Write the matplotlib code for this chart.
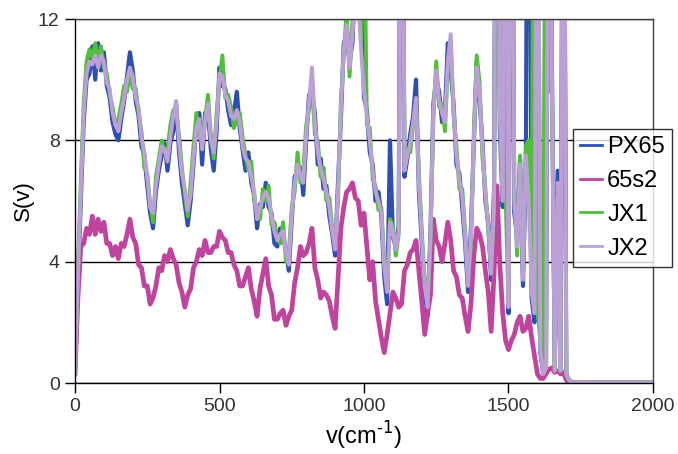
import numpy as np
import matplotlib
matplotlib.use("Agg")
import matplotlib.pyplot as plt

plt.rcParams['font.family'] = ['Liberation Sans', 'DejaVu Sans']

# wavenumber grid (cm^-1)
nu = list(range(0, 1730, 10)) + [1800, 2000]

px65 = [
    0.3, 3.2, 6.0, 8.6, 10.0, 10.2, 11.1, 10.0, 11.2, 10.3,
    10.9, 9.8, 9.4, 8.6, 8.2, 8.0, 8.7, 9.3, 10.1, 10.9,
    10.3, 9.3, 8.8, 7.8, 7.5, 6.5, 5.6, 5.1, 6.3, 7.0,
    7.5, 7.9, 7.0, 7.9, 8.3, 9.2, 7.6, 6.6, 5.9, 5.2,
    6.0, 7.2, 8.5, 8.9, 7.2, 8.9, 9.0, 7.7, 7.0, 8.3,
    10.4, 9.8, 9.7, 9.0, 8.5, 8.9, 9.6, 8.4, 7.7, 7.0,
    7.6, 6.6, 6.2, 5.1, 5.9, 5.8, 6.6, 5.8, 5.6, 4.6,
    4.5, 5.1, 4.8, 4.4, 3.7, 5.4, 6.8, 7.0, 7.1, 6.2,
    8.0, 9.5, 9.6, 8.9, 7.2, 7.4, 6.4, 6.5, 5.5, 4.9,
    4.2, 6.6, 8.7, 11.2, 11.5, 10.6, 11.2, 13.5, 12.8, 14.0,
    9.4, 9.0, 7.6, 7.2, 6.0, 6.3, 5.5, 3.5, 2.6, 8.0,
    4.8, 4.5, 5.2, 25.0, 6.8, 7.4, 8.2, 8.8, 10.0, 6.3,
    4.6, 3.0, 2.2, 5.0, 9.2, 10.0, 9.6, 8.6, 8.9, 11.2,
    10.3, 9.2, 7.2, 6.9, 5.8, 4.6, 3.0, 5.1, 7.8, 10.6,
    9.3, 7.9, 6.0, 5.3, 3.4, 6.4, 28.0, 8.4, 5.8, 26.0,
    2.3, 24.0, 5.6, 4.8, 7.4, 3.2, 7.0, 30.0, 2.8, 2.0,
    22.0, 1.0, 0.3, 0.6, 27.0, 10.8, 0.4, 7.0, 0.4, 25.0,
    0.3, 0.08, 0.03, 0.02, 0.02]

s65s2 = [
    0.3, 2.8, 4.5, 4.6, 5.1, 4.9, 5.5, 4.9, 5.4, 5.0,
    5.3, 4.6, 4.6, 4.2, 4.5, 4.1, 4.6, 4.5, 4.9, 5.4,
    4.8, 4.6, 3.9, 3.8, 3.2, 3.2, 2.6, 2.8, 3.2, 3.8,
    3.7, 4.2, 4.0, 4.4, 4.1, 3.9, 3.3, 3.0, 2.5, 2.9,
    3.1, 3.8, 4.0, 4.4, 4.2, 4.7, 4.3, 4.3, 4.5, 4.5,
    5.0, 4.8, 4.7, 4.3, 4.3, 3.9, 3.7, 3.2, 3.2, 3.5,
    3.8, 3.1, 2.7, 2.2, 3.1, 3.6, 4.1, 3.2, 2.9, 2.1,
    2.1, 2.3, 2.4, 1.9, 2.2, 2.4, 3.3, 3.8, 4.5, 4.2,
    4.3, 4.6, 5.1, 3.8, 3.4, 2.8, 3.0, 2.9, 2.7, 2.2,
    1.8, 3.4, 5.1, 5.8, 6.3, 6.4, 6.6, 6.1, 6.0, 5.2,
    5.6, 4.5, 3.4, 4.0, 2.7, 2.1, 1.5, 1.0, 1.6, 2.3,
    3.0, 2.8, 2.5, 2.6, 3.7, 3.9, 4.3, 4.4, 4.7, 3.7,
    2.7, 1.6, 2.3, 2.9, 5.4, 4.7, 4.5, 4.0, 4.6, 5.3,
    4.7, 3.7, 3.5, 2.9, 2.8, 2.2, 1.7, 2.6, 4.2, 5.1,
    4.9, 4.5, 3.7, 3.0, 1.7, 3.6, 6.5, 3.9, 2.3, 1.4,
    1.1, 1.4, 1.6, 2.0, 2.2, 1.7, 1.8, 2.2, 1.5, 0.9,
    0.3, 0.15, 0.15, 0.3, 0.45, 0.5, 0.35, 0.4, 0.3, 0.35,
    0.1, 0.03, 0.02, 0.02, 0.02]

jx1 = [
    0.4, 3.8, 6.6, 9.2, 10.6, 11.0, 10.7, 11.2, 10.6, 11.1,
    10.4, 10.2, 9.5, 9.1, 8.5, 8.7, 9.2, 9.8, 9.6, 10.2,
    9.7, 9.7, 8.9, 8.3, 7.1, 6.9, 5.9, 5.3, 6.8, 7.4,
    8.0, 7.6, 7.7, 8.5, 9.0, 8.9, 8.2, 7.1, 6.2, 5.5,
    6.6, 7.8, 8.9, 8.3, 8.0, 8.7, 9.5, 8.2, 7.4, 8.9,
    10.0, 10.8, 9.4, 9.5, 9.1, 8.4, 8.7, 8.9, 8.1, 7.5,
    7.0, 7.3, 6.0, 5.6, 5.4, 6.4, 6.0, 6.5, 5.2, 5.3,
    4.8, 4.6, 5.3, 4.0, 4.3, 5.8, 6.3, 7.6, 6.6, 7.0,
    8.5, 9.0, 9.9, 8.2, 8.0, 6.8, 7.1, 6.0, 6.1, 5.1,
    4.7, 6.0, 9.3, 10.8, 12.3, 10.1, 11.9, 12.4, 13.0, 11.3,
    16.0, 8.5, 8.4, 6.7, 6.5, 5.7, 5.8, 4.0, 3.2, 5.4,
    5.2, 4.2, 4.9, 26.0, 7.3, 7.7, 7.6, 8.5, 9.2, 6.9,
    5.0, 3.4, 2.7, 4.6, 8.8, 10.6, 9.1, 9.2, 8.3, 10.4,
    11.2, 8.8, 7.8, 6.4, 6.4, 5.0, 3.5, 4.5, 8.3, 10.8,
    9.9, 7.4, 6.4, 5.0, 3.8, 5.6, 30.0, 9.0, 27.0, 6.2,
    2.6, 26.0, 6.3, 4.2, 7.5, 3.6, 7.8, 8.0, 3.2, 28.0,
    2.6, 1.3, 0.3, 26.0, 9.6, 10.2, 0.4, 6.2, 0.4, 24.0,
    0.3, 0.08, 0.04, 0.03, 0.03]

jx2 = [
    0.3, 3.5, 6.3, 8.9, 10.2, 10.6, 10.5, 10.8, 10.4, 10.8,
    10.6, 9.9, 9.7, 8.9, 8.5, 8.3, 8.9, 9.4, 10.0, 10.4,
    10.1, 9.4, 9.1, 8.1, 7.6, 6.8, 5.8, 5.6, 6.5, 7.2,
    7.8, 7.7, 7.3, 8.1, 8.8, 9.3, 7.9, 6.9, 6.4, 5.7,
    6.2, 7.4, 8.4, 8.7, 7.7, 8.6, 9.2, 8.0, 7.6, 8.6,
    10.2, 10.1, 9.5, 9.3, 8.8, 8.7, 9.0, 8.6, 7.8, 7.4,
    7.3, 6.8, 6.3, 5.4, 5.8, 6.1, 6.3, 6.1, 5.5, 5.0,
    4.7, 4.9, 5.0, 4.3, 3.9, 5.6, 6.6, 7.2, 6.8, 6.6,
    8.2, 9.3, 10.4, 8.6, 7.6, 7.1, 6.7, 6.3, 5.8, 5.0,
    4.4, 6.3, 9.0, 11.0, 11.8, 10.4, 11.5, 12.6, 12.6, 11.0,
    9.6, 8.8, 8.0, 7.0, 6.3, 6.0, 5.6, 3.8, 3.0, 5.3,
    5.0, 4.4, 5.0, 24.0, 7.0, 7.5, 7.9, 8.6, 9.4, 6.6,
    4.8, 3.2, 2.5, 4.8, 9.0, 10.3, 9.3, 8.9, 8.6, 10.6,
    11.5, 9.0, 7.5, 6.7, 6.1, 4.8, 3.2, 4.8, 8.0, 10.4,
    9.6, 7.7, 6.2, 5.2, 3.6, 6.0, 27.0, 8.8, 6.0, 25.0,
    2.5, 25.0, 6.0, 4.5, 7.2, 3.4, 7.5, 6.0, 3.0, 2.3,
    25.0, 1.1, 0.3, 0.5, 26.0, 10.3, 0.4, 6.6, 0.4, 26.0,
    0.3, 0.08, 0.03, 0.02, 0.02]

series = [("PX65", px65, "#2F4FAF", 3.0),
          ("65s2", s65s2, "#C0449E", 3.4),
          ("JX1", jx1, "#52BE3C", 2.8),
          ("JX2", jx2, "#BBA0D6", 2.8)]

x_ticks = [0, 500, 1000, 1500, 2000]
y_ticks = [0, 4, 8, 12]

fig = plt.figure(figsize=(6.78, 4.54), dpi=100)
ax = fig.add_axes([75/678, 1 - 383/454, 578/678, 364/454])

for name, vals, col, w in series:
    ax.plot(nu, vals, color=col, lw=w, label=name)

ax.set_xlim(0, 2000)
ax.set_ylim(0, 12)
ax.set_xticks(x_ticks)
ax.set_yticks(y_ticks)
ax.yaxis.grid(True, color='black', lw=1.0)
for sp in ax.spines.values():
    sp.set_color('black')
    sp.set_linewidth(1.0)
ax.spines['top'].set_color('#404040')
ax.spines['right'].set_color('#404040')
ax.tick_params(direction='out', length=7, width=1, labelsize=14, pad=4,
               labelcolor='#333333')
ax.set_xlabel('v(cm$^{\\text{-1}}$)', fontsize=17, labelpad=3)
ax.set_ylabel('S(v)', fontsize=16, labelpad=3)

leg = fig.legend(loc='upper right', bbox_to_anchor=(672/678, 1 - 129/454),
                 fontsize=17, frameon=True, fancybox=False, handlelength=0.95,
                 handletextpad=0.2, borderpad=0.3, labelspacing=0.5,
                 borderaxespad=0)
leg.get_frame().set_edgecolor('black')
leg.get_frame().set_linewidth(1.0)
for h in leg.get_lines():
    h.set_linewidth(2.0)

fig.savefig('out.png', dpi=100)
